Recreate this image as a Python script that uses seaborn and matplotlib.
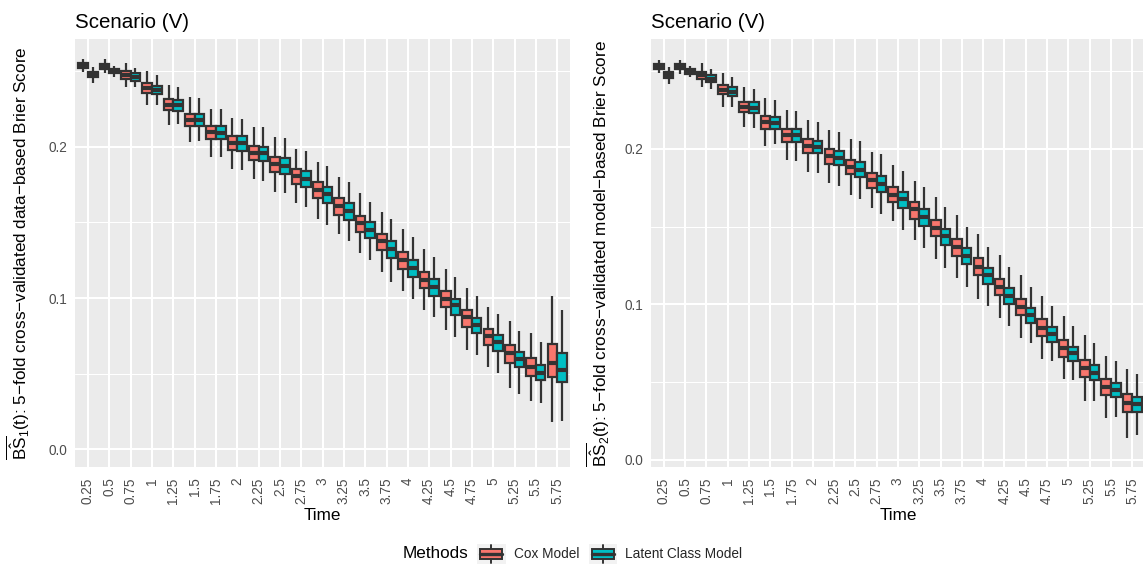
import numpy as np
import pandas as pd
import matplotlib
matplotlib.use("Agg")
import matplotlib.pyplot as plt
import seaborn as sns
from matplotlib.patches import Rectangle, Patch
from matplotlib.lines import Line2D
from matplotlib.legend_handler import HandlerBase
from matplotlib.ticker import FixedLocator

# ---------------- data ----------------
TIMES = ["0.25", "0.5", "0.75", "1", "1.25", "1.5", "1.75", "2", "2.25", "2.5", "2.75",
         "3", "3.25", "3.5", "3.75", "4", "4.25", "4.5", "4.75", "5", "5.25", "5.5", "5.75"]
METHODS = ["Cox Model", "Latent Class Model"]
COLORS = ["#F8766D", "#00BFC4"]

# Panel 1: data-based Brier score, Cox Model (lower whisker, Q1, median, Q3, upper whisker)
bs1_cox_lo = [0.2495, 0.2488, 0.2399, 0.2280, 0.2146, 0.2031, 0.1934, 0.1854, 0.1790, 0.1704, 0.1627, 0.1521,
              0.1422, 0.1296, 0.1170, 0.1044, 0.0921, 0.0788, 0.0654, 0.0541, 0.0402, 0.0318, 0.0179]
bs1_cox_q1 = [0.2521, 0.2519, 0.2450, 0.2356, 0.2243, 0.2139, 0.2055, 0.1980, 0.1912, 0.1836, 0.1757, 0.1662,
              0.1552, 0.1437, 0.1316, 0.1194, 0.1064, 0.0938, 0.0810, 0.0687, 0.0572, 0.0483, 0.0475]
bs1_cox_med = [0.2538, 0.2536, 0.2479, 0.2389, 0.2280, 0.2179, 0.2099, 0.2028, 0.1962, 0.1889, 0.1808, 0.1715,
               0.1609, 0.1499, 0.1377, 0.1252, 0.1119, 0.0993, 0.0876, 0.0748, 0.0634, 0.0541, 0.0568]
bs1_cox_q3 = [0.2554, 0.2552, 0.2505, 0.2422, 0.2316, 0.2217, 0.2139, 0.2071, 0.2005, 0.1936, 0.1854, 0.1766,
              0.1660, 0.1545, 0.1424, 0.1305, 0.1174, 0.1048, 0.0923, 0.0797, 0.0687, 0.0603, 0.0695]
bs1_cox_hi = [0.2581, 0.2581, 0.2558, 0.2503, 0.2411, 0.2329, 0.2254, 0.2192, 0.2130, 0.2066, 0.1989, 0.1901,
              0.1803, 0.1693, 0.1570, 0.1455, 0.1325, 0.1192, 0.1064, 0.0938, 0.0848, 0.0768, 0.1015]

# Panel 1: Latent Class Model
bs1_lcm_lo = [0.2422, 0.2466, 0.2395, 0.2278, 0.2150, 0.2040, 0.1932, 0.1848, 0.1775, 0.1697, 0.1601, 0.1485,
              0.1375, 0.1250, 0.1108, 0.0991, 0.0876, 0.0744, 0.0625, 0.0505, 0.0366, 0.0305, 0.0187]
bs1_lcm_q1 = [0.2466, 0.2492, 0.2437, 0.2349, 0.2238, 0.2139, 0.2051, 0.1975, 0.1907, 0.1823, 0.1737, 0.1631,
              0.1519, 0.1395, 0.1267, 0.1139, 0.1011, 0.0887, 0.0766, 0.0649, 0.0541, 0.0455, 0.0444]
bs1_lcm_med = [0.2481, 0.2505, 0.2464, 0.2377, 0.2276, 0.2179, 0.2095, 0.2025, 0.1962, 0.1876, 0.1790, 0.1687,
               0.1578, 0.1450, 0.1326, 0.1201, 0.1075, 0.0952, 0.0823, 0.0709, 0.0598, 0.0501, 0.0523]
bs1_lcm_q3 = [0.2499, 0.2519, 0.2488, 0.2406, 0.2311, 0.2217, 0.2141, 0.2071, 0.2002, 0.1927, 0.1839, 0.1737,
              0.1627, 0.1501, 0.1375, 0.1250, 0.1124, 0.0995, 0.0870, 0.0753, 0.0644, 0.0558, 0.0636]
bs1_lcm_hi = [0.2532, 0.2536, 0.2525, 0.2475, 0.2399, 0.2323, 0.2252, 0.2185, 0.2130, 0.2060, 0.1975, 0.1872,
              0.1766, 0.1638, 0.1523, 0.1402, 0.1270, 0.1137, 0.1011, 0.0896, 0.0781, 0.0709, 0.0919]

# Panel 2: model-based Brier score, Cox Model
bs2_cox_lo = [0.2487, 0.2482, 0.2397, 0.2270, 0.2140, 0.2021, 0.1929, 0.1854, 0.1779, 0.1704, 0.1619, 0.1539,
              0.1415, 0.1291, 0.1168, 0.1037, 0.0911, 0.0783, 0.0648, 0.0519, 0.0381, 0.0268, 0.0140]
bs2_cox_q1 = [0.2514, 0.2513, 0.2450, 0.2352, 0.2236, 0.2131, 0.2043, 0.1976, 0.1905, 0.1837, 0.1751, 0.1657,
              0.1552, 0.1439, 0.1314, 0.1192, 0.1059, 0.0931, 0.0797, 0.0664, 0.0536, 0.0416, 0.0309]
bs2_cox_med = [0.2532, 0.2529, 0.2474, 0.2381, 0.2270, 0.2174, 0.2088, 0.2021, 0.1955, 0.1884, 0.1801, 0.1706,
               0.1612, 0.1494, 0.1370, 0.1243, 0.1114, 0.0982, 0.0851, 0.0718, 0.0590, 0.0468, 0.0367]
bs2_cox_q3 = [0.2549, 0.2547, 0.2497, 0.2412, 0.2304, 0.2212, 0.2129, 0.2062, 0.1998, 0.1929, 0.1848, 0.1758,
              0.1657, 0.1543, 0.1423, 0.1297, 0.1166, 0.1035, 0.0905, 0.0772, 0.0643, 0.0523, 0.0423]
bs2_cox_hi = [0.2572, 0.2572, 0.2551, 0.2487, 0.2399, 0.2326, 0.2249, 0.2185, 0.2122, 0.2062, 0.1983, 0.1897,
              0.1794, 0.1689, 0.1578, 0.1451, 0.1318, 0.1188, 0.1057, 0.0928, 0.0802, 0.0669, 0.0583]

# Panel 2: Latent Class Model
bs2_lcm_lo = [0.2416, 0.2463, 0.2386, 0.2270, 0.2137, 0.2030, 0.1923, 0.1844, 0.1764, 0.1677, 0.1584, 0.1481,
              0.1365, 0.1237, 0.1114, 0.0992, 0.0864, 0.0750, 0.0639, 0.0514, 0.0379, 0.0275, 0.0161]
bs2_lcm_q1 = [0.2454, 0.2484, 0.2433, 0.2341, 0.2233, 0.2127, 0.2043, 0.1972, 0.1895, 0.1818, 0.1725, 0.1623,
              0.1507, 0.1385, 0.1259, 0.1134, 0.1005, 0.0883, 0.0759, 0.0637, 0.0514, 0.0403, 0.0309]
bs2_lcm_med = [0.2474, 0.2497, 0.2452, 0.2369, 0.2266, 0.2169, 0.2088, 0.2015, 0.1944, 0.1865, 0.1777, 0.1677,
               0.1565, 0.1439, 0.1312, 0.1188, 0.1055, 0.0932, 0.0808, 0.0686, 0.0561, 0.0452, 0.0358]
bs2_lcm_q3 = [0.2493, 0.2513, 0.2476, 0.2397, 0.2300, 0.2208, 0.2129, 0.2053, 0.1987, 0.1914, 0.1826, 0.1725,
              0.1612, 0.1487, 0.1361, 0.1235, 0.1104, 0.0979, 0.0853, 0.0729, 0.0611, 0.0497, 0.0407]
bs2_lcm_hi = [0.2529, 0.2532, 0.2512, 0.2465, 0.2384, 0.2313, 0.2244, 0.2172, 0.2112, 0.2050, 0.1966, 0.1860,
              0.1754, 0.1629, 0.1500, 0.1372, 0.1243, 0.1111, 0.0988, 0.0862, 0.0750, 0.0637, 0.0555]

Y_TICKS = [0.0, 0.1, 0.2]
Y_TICK_LABELS = ["0.0", "0.1", "0.2"]
TITLE = "Scenario (V)"
MINUS = "\u2212"
YLAB1 = (r"$\overline{\hat{\mathrm{BS}}}_{\mathrm{1}}\mathrm{(t)}$" +
         ": 5" + MINUS + "fold cross" + MINUS + "validated data" + MINUS + "based Brier Score")
YLAB2 = (r"$\overline{\hat{\mathrm{BS}}}_{\mathrm{2}}\mathrm{(t)}$" +
         ": 5" + MINUS + "fold cross" + MINUS + "validated model" + MINUS + "based Brier Score")


def long_df(cox, lcm):
    rows = []
    for i, t in enumerate(TIMES):
        for name, stats in ((METHODS[0], cox), (METHODS[1], lcm)):
            for s in stats:
                rows.append((t, name, s[i]))
    return pd.DataFrame(rows, columns=["Time", "Methods", "value"])


df1 = long_df((bs1_cox_lo, bs1_cox_q1, bs1_cox_med, bs1_cox_q3, bs1_cox_hi),
              (bs1_lcm_lo, bs1_lcm_q1, bs1_lcm_med, bs1_lcm_q3, bs1_lcm_hi))
df2 = long_df((bs2_cox_lo, bs2_cox_q1, bs2_cox_med, bs2_cox_q3, bs2_cox_hi),
              (bs2_lcm_lo, bs2_lcm_q1, bs2_lcm_med, bs2_lcm_q3, bs2_lcm_hi))

# ---------------- style ----------------
sns.set_theme(style="darkgrid")
plt.rcParams.update({
    "font.family": ["Liberation Sans", "DejaVu Sans"],
    "mathtext.fontset": "custom",
    "mathtext.rm": "Liberation Sans",
    "mathtext.it": "Liberation Sans:italic",
    "mathtext.bf": "Liberation Sans:bold",
    "axes.facecolor": "#EBEBEB",
    "axes.edgecolor": "none",
    "grid.color": "white",
})

W, H = 1143, 566
fig = plt.figure(figsize=(W / 100, H / 100), dpi=100)
fig.patch.set_facecolor("white")

top_px, bot_px = 39, 467.3
ax1 = fig.add_axes([75.2 / W, 1 - bot_px / H, 494.8 / W, (bot_px - top_px) / H])
ax2 = fig.add_axes([651 / W, 1 - bot_px / H, 494 / W, (bot_px - top_px) / H])

EDGE = "#333333"
for ax, df, ylab, ylim, ylx in ((ax1, df1, YLAB1, (-0.0121, 0.2715), -0.088),
                                (ax2, df2, YLAB2, (-0.0047, 0.2707), -0.078)):
    sns.boxplot(data=df, x="Time", y="value", hue="Methods", order=TIMES, hue_order=METHODS,
                palette=COLORS, saturation=1, width=0.9, gap=0, whis=(0, 100), showcaps=False,
                fliersize=0, linecolor=EDGE, linewidth=1.6, medianprops=dict(linewidth=3.0),
                legend=False, ax=ax)
    ax.set_xlim(-0.6, len(TIMES) - 0.4)
    ax.set_ylim(*ylim)
    ax.set_yticks(Y_TICKS)
    ax.set_yticklabels(Y_TICK_LABELS)
    ax.yaxis.set_minor_locator(FixedLocator([0.05, 0.15, 0.25]))
    ax.set_axisbelow(True)
    ax.grid(True, which="major", axis="both", color="white", linewidth=1.5)
    ax.grid(True, which="minor", axis="y", color="white", linewidth=0.75)
    ax.tick_params(axis="both", which="major", length=3.1, width=1.3, color=EDGE,
                   labelcolor="#4D4D4D", labelsize=9.8, pad=2.5)
    ax.tick_params(axis="y", which="minor", length=0)
    ax.tick_params(axis="x", which="major", labelrotation=90, pad=4)
    for s in ax.spines.values():
        s.set_visible(False)
    ax.set_xlabel("Time", fontsize=12.3, color="black", labelpad=3)
    ax.set_ylabel(ylab, fontsize=12.3, color="black")
    ax.yaxis.set_label_coords(ylx, 0.5)
    ax.set_title(TITLE, loc="left", fontsize=14.8, color="black", pad=8)


class BoxKeyHandler(HandlerBase):
    def create_artists(self, legend, orig_handle, xdescent, ydescent, width, height, fontsize, trans):
        fc = orig_handle.get_facecolor()
        x0, y0 = -xdescent, -ydescent
        bg = Rectangle((x0, y0), width, height, facecolor="#F2F2F2", edgecolor="none", transform=trans)
        cx = x0 + width / 2
        wl = Line2D([cx, cx], [y0 + height * 0.06, y0 + height * 0.94], color=EDGE, lw=1.4, transform=trans)
        bx = Rectangle((x0 + width * 0.12, y0 + height * 0.25), width * 0.76, height * 0.5,
                       facecolor=fc, edgecolor=EDGE, lw=1.4, transform=trans)
        md = Line2D([x0 + width * 0.12, x0 + width * 0.88], [y0 + height / 2] * 2, color=EDGE, lw=2.4,
                    transform=trans)
        return [bg, wl, bx, md]


handles = [Patch(facecolor=c) for c in COLORS]
fig.text(403 / W, 1 - 554 / H, "Methods", fontsize=12.3, ha="left", va="center", color="black")
fig.legend(handles, METHODS, handler_map={Patch: BoxKeyHandler()}, loc="center left",
           bbox_to_anchor=(477 / W, 1 - 554 / H), ncol=2, frameon=False, fontsize=9.8,
           handlelength=2.1, handleheight=1.9, handletextpad=0.6, columnspacing=0.7,
           borderpad=0, borderaxespad=0)

fig.savefig("out.png", dpi=100)
